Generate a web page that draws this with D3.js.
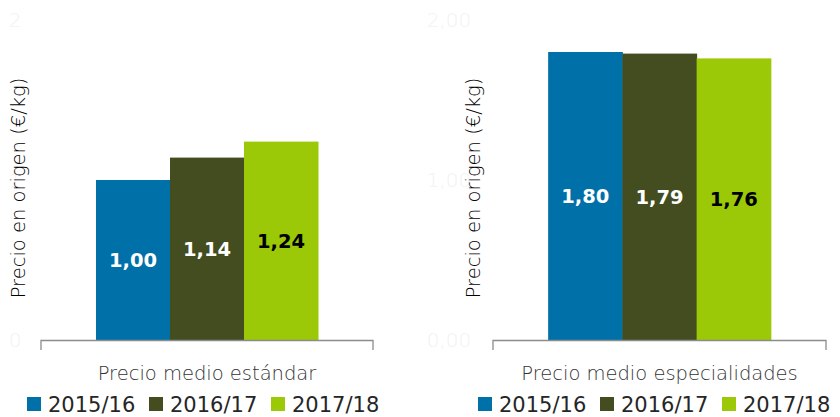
<!DOCTYPE html>
<html>
<head>
<meta charset="utf-8">
<script src="https://cdn.jsdelivr.net/npm/d3@7"></script>
<style>
  body { margin: 0; background: #fff; }
  svg text { font-family: "DejaVu Sans", sans-serif; }
</style>
</head>
<body>
<div id="chart"></div>
<script>
// data
var seasons = ["2015/16", "2016/17", "2017/18"]
var seasonColors = ["#0070a8", "#434d1f", "#9bc907"]
var labelColors = ["#ffffff", "#ffffff", "#000000"]

var stdCategory = ["Precio medio estándar"]
var stdValues = [1.00, 1.14, 1.24]
var stdTickValues = [0, 1, 2]
var stdTickLabels = ["0", "1", "2"]

var espCategory = ["Precio medio especialidades"]
var espValues = [1.80, 1.79, 1.76]
var espTickValues = [0, 1, 2]
var espTickLabels = ["0,00", "1,00", "2,00"]

var yTitle = "Precio en origen (€/kg)"

var W = 840, H = 417
var svg = d3.select('#chart')
  .append("svg")
  .attr("width", W)
  .attr("height", H)

// one panel = one category with three bars
function drawPanel(opts) {
  var g = svg.append("g")

  var y = d3.scaleLinear().domain([0, 2]).range([340, 20])
  var x = d3.scaleBand().domain(opts.category).range(opts.xRange)
  var xs = d3.scaleBand().domain(seasons)
    .range([0, x.bandwidth()])
    .paddingInner(0).paddingOuter(0.743)

  // faint value ticks
  g.selectAll(".ytick")
    .data(opts.tickValues)
    .enter()
    .append("text")
    .attr("x", opts.tickX)
    .attr("y", function(d) { return y(d); })
    .attr("dy", "0.35em")
    .attr("text-anchor", "middle")
    .style("font-size", "20px")
    .style("font-weight", 300)
    .style("fill", "#f2f2f2")
    .text(function(d, i) { return opts.tickLabels[i]; })

  // axis title
  g.append("text")
    .attr("transform", "translate(" + opts.titleX + "," + 188 + ") rotate(-90)")
    .attr("text-anchor", "middle")
    .attr("dy", "0.35em")
    .style("font-size", "19.5px")
    .style("font-weight", 300)
    .style("fill", "#000")
    .text(yTitle)

  var cat = opts.category[0]
  var bars = g.selectAll(".bar")
    .data(opts.values)
    .enter()

  bars.append("rect")
    .attr("x", function(d, i) { return x(cat) + xs(seasons[i]); })
    .attr("y", function(d) { return y(d); })
    .attr("width", xs.bandwidth() + 0.5)
    .attr("height", function(d) { return y(0) - y(d); })
    .style("fill", function(d, i) { return seasonColors[i]; })

  bars.append("text")
    .attr("x", function(d, i) { return x(cat) + xs(seasons[i]) + xs.bandwidth() / 2; })
    .attr("y", function(d) { return (y(d) + y(0)) / 2; })
    .attr("dy", "0.35em")
    .attr("text-anchor", "middle")
    .style("font-size", "19.5px")
    .style("font-weight", "bold")
    .style("fill", function(d, i) { return labelColors[i]; })
    .text(function(d) { return d.toFixed(2).replace(".", ","); })

  // category axis line with end ticks
  var x0 = opts.xRange[0], x1 = opts.xRange[1]
  g.append("path")
    .attr("d", "M" + x0 + "," + (y(0) + 10) + "V" + (y(0) + 0.5) + "H" + x1 + "V" + (y(0) + 10))
    .style("fill", "none")
    .style("stroke", "#8c8c8c")
    .style("stroke-width", 1.3)

  g.append("text")
    .attr("x", x(cat) + x.bandwidth() / 2)
    .attr("y", 373)
    .attr("dy", "0.35em")
    .attr("text-anchor", "middle")
    .style("font-size", "19.5px")
    .style("font-weight", 300)
    .style("fill", "#333")
    .text(cat)

  // legend
  var leg = g.selectAll(".legend")
    .data(seasons)
    .enter()
    .append("g")
    .attr("transform", function(d, i) { return "translate(" + (opts.legendX + i * 122) + ",404)"; })

  leg.append("rect")
    .attr("x", 0).attr("y", -7)
    .attr("width", 14).attr("height", 14)
    .style("fill", function(d, i) { return seasonColors[i]; })

  leg.append("text")
    .attr("x", 21)
    .attr("dy", "0.36em")
    .style("font-size", "21px")
    .style("fill", "#262626")
    .text(function(d) { return d; })
}

drawPanel({
  category: stdCategory, values: stdValues,
  tickValues: stdTickValues, tickLabels: stdTickLabels,
  xRange: [41, 373], tickX: 15, titleX: 18, legendX: 27
})

drawPanel({
  category: espCategory, values: espValues,
  tickValues: espTickValues, tickLabels: espTickLabels,
  xRange: [493, 826], tickX: 449, titleX: 473, legendX: 478
})
</script>
</body>
</html>
